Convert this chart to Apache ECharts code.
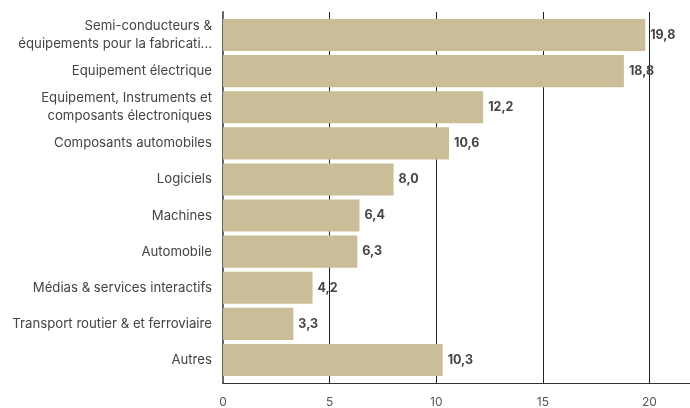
<!DOCTYPE html>
<html>
<head>
<meta charset="utf-8">
<script src="https://cdn.jsdelivr.net/npm/echarts@6/dist/echarts.min.js"></script>
<style>
  html, body { margin: 0; padding: 0; background: #fff; }
  #container { width: 690px; height: 408px; }
</style>
</head>
<body>
<div id="container"></div>
<script>
  // secteurs (du haut vers le bas)
  const categories = [
    'Semi-conducteurs &\néquipements pour la fabricati...',
    'Equipement électrique',
    'Equipement, Instruments et\ncomposants électroniques',
    'Composants automobiles',
    'Logiciels',
    'Machines',
    'Automobile',
    'Médias & services interactifs',
    'Transport routier & et ferroviaire',
    'Autres'
  ]
  const values = [19.8, 18.8, 12.2, 10.6, 8.0, 6.4, 6.3, 4.2, 3.3, 10.3]
  const xTicks = [0, 5, 10, 15, 20]
  const xMax = 21.9

  const myChart = echarts.init(document.getElementById('container'))
  myChart.setOption({
    animation: false,
    // grille 0 : axes et lignes verticales ; grille 1 : barres (un peu en retrait)
    grid: [
      { left: 223, right: 0, top: 12, bottom: 25, outerBoundsMode: 'none' },
      { left: 223, right: 0, top: 17, bottom: 30, outerBoundsMode: 'none' }
    ],
    xAxis: [{
      type: 'value',
      gridIndex: 0,
      min: 0,
      max: xMax,
      interval: 5,
      axisLine: { show: true, lineStyle: { color: '#333', width: 1 } },
      axisTick: { show: false },
      splitLine: { show: true, showMaxLine: false, lineStyle: { color: '#222', width: 1 } },
      axisLabel: {
        color: '#555',
        fontFamily: 'Inter',
        fontSize: 12,
        margin: 13,
        showMaxLabel: false,
        formatter: function(v) {
          return xTicks.indexOf(v) >= 0 ? String(v) : ''
        }
      }
    }, {
      type: 'value',
      gridIndex: 1,
      min: 0,
      max: xMax,
      show: false
    }],
    yAxis: [{
      type: 'value',
      gridIndex: 0,
      min: 0,
      max: 1,
      axisLine: { show: true, lineStyle: { color: '#666', width: 2 } },
      axisTick: { show: false },
      axisLabel: { show: false },
      splitLine: { show: false }
    }, {
      type: 'category',
      gridIndex: 1,
      inverse: true,
      data: categories,
      axisLine: { show: false },
      axisTick: { show: false },
      axisLabel: {
        color: '#444',
        fontFamily: 'Inter',
        fontSize: 13.2,
        lineHeight: 18,
        margin: 11,
        align: 'right'
      }
    }],
    series: [{
      type: 'bar',
      xAxisIndex: 1,
      yAxisIndex: 1,
      data: values,
      barCategoryGap: '11%',
      itemStyle: { color: '#C9BE98' },
      label: {
        show: true,
        position: 'right',
        distance: 5,
        color: '#444',
        fontFamily: 'Inter',
        fontWeight: 'bold',
        fontSize: 12.5,
        formatter: function(p) {
          return p.value.toFixed(1).replace('.', ',')
        }
      }
    }]
  })
</script>
</body>
</html>
